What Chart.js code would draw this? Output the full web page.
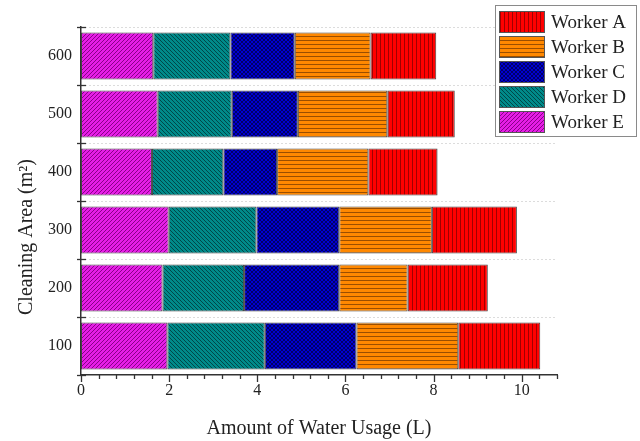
<!DOCTYPE html>
<html>
<head>
<meta charset="utf-8">
<script src="https://cdn.jsdelivr.net/npm/chart.js@4.4.1/dist/chart.umd.min.js"></script>
<style>
html, body { margin: 0; padding: 0; background: #fff; }
</style>
</head>
<body>
<canvas id="chart" width="640" height="441"></canvas>
<script>
// Data (stack segment lengths, litres)
const areas = ['100', '200', '300', '400', '500', '600'];
const workerE = [1.96, 1.85, 1.99, 1.61, 1.74, 1.64];
const workerD = [2.21, 1.85, 1.99, 1.62, 1.68, 1.75];
const workerC = [2.08, 2.16, 1.88, 1.22, 1.50, 1.46];
const workerB = [2.31, 1.55, 2.10, 2.07, 2.03, 1.72];
const workerA = [1.86, 1.82, 1.93, 1.57, 1.53, 1.49];
const xTicks = [0, 2, 4, 6, 8, 10];
const xMax = 10.8;

const FONT = '"Liberation Serif", "DejaVu Serif", serif';

// Hatched fills
function makePattern(bg, line, kind) {
    const s = 4;
    const c = document.createElement('canvas');
    c.width = s; c.height = s;
    const g = c.getContext('2d');
    g.fillStyle = bg;
    g.fillRect(0, 0, s, s);
    g.strokeStyle = line;
    g.lineWidth = 1;
    g.beginPath();
    if (kind === 'v') { g.moveTo(0.5, 0); g.lineTo(0.5, s); }
    if (kind === 'h') { g.moveTo(0, 0.5); g.lineTo(s, 0.5); }
    if (kind === 'fwd' || kind === 'cross') {
        g.moveTo(0, s); g.lineTo(s, 0);
        g.moveTo(-1, 1); g.lineTo(1, -1);
        g.moveTo(s - 1, s + 1); g.lineTo(s + 1, s - 1);
    }
    if (kind === 'back' || kind === 'cross') {
        g.moveTo(0, 0); g.lineTo(s, s);
        g.moveTo(-1, s - 1); g.lineTo(1, s + 1);
        g.moveTo(s - 1, -1); g.lineTo(s + 1, 1);
    }
    g.stroke();
    return g.createPattern(c, 'repeat');
}

const ctx = document.getElementById('chart').getContext('2d');

const series = [
    { label: 'Worker E', data: workerE, fill: makePattern('#e61ee6', '#8a008a', 'fwd') },
    { label: 'Worker D', data: workerD, fill: makePattern('#008a8a', '#004848', 'back') },
    { label: 'Worker C', data: workerC, fill: makePattern('#0000d2', '#000068', 'cross') },
    { label: 'Worker B', data: workerB, fill: makePattern('#ff8800', '#9a4e00', 'h') },
    { label: 'Worker A', data: workerA, fill: makePattern('#ff0000', '#a00000', 'v') }
];

// Ticks, boundary lines, legend and y title
const decorations = {
    id: 'decorations',
    beforeDatasetsDraw(chart) {
        const c = chart.ctx;
        const y = chart.scales.y;
        const area = chart.chartArea;
        c.save();
        c.strokeStyle = '#dcdcdc';
        c.lineWidth = 1;
        c.setLineDash([2, 2]);
        for (let i = 0; i < areas.length; i++) {
            const py = Math.round(y.getPixelForValue(i + 0.5)) + 0.5;
            c.beginPath();
            c.moveTo(area.left, py);
            c.lineTo(area.right, py);
            c.stroke();
        }
        c.restore();
    },
    afterDraw(chart) {
        const c = chart.ctx;
        const x = chart.scales.x;
        const y = chart.scales.y;
        const area = chart.chartArea;
        c.save();
        c.strokeStyle = '#333';
        c.lineWidth = 1.3;

        // x ticks: major every 2, minor every 0.4
        for (let i = 0; i * 0.4 <= xMax + 1e-9; i++) {
            const px = Math.round(x.getPixelForValue(i * 0.4)) + 0.5;
            const len = i % 5 === 0 ? 7 : 4;
            c.beginPath();
            c.moveTo(px, area.bottom);
            c.lineTo(px, area.bottom + len);
            c.stroke();
        }

        // y ticks at category boundaries, crossing the axis
        for (let i = 0; i <= areas.length; i++) {
            const py = Math.round(y.getPixelForValue(i - 0.5)) + 0.5;
            c.beginPath();
            c.moveTo(area.left - 4, py);
            c.lineTo(area.left + 5, py);
            c.stroke();
        }

        // y title
        c.fillStyle = '#222';
        c.font = '20px ' + FONT;
        c.textAlign = 'center';
        c.textBaseline = 'middle';
        c.translate(27, 237);
        c.rotate(-Math.PI / 2);
        c.fillText('Cleaning Area (m\u00b2)', 0, 0);
        c.restore();

        // legend box
        c.save();
        c.strokeStyle = '#8a8a8a';
        c.lineWidth = 1;
        c.fillStyle = '#fff';
        c.fillRect(495.5, 5.5, 141, 131);
        c.strokeRect(495.5, 5.5, 141, 131);
        c.font = '19px ' + FONT;
        c.textBaseline = 'middle';
        c.textAlign = 'left';
        const items = series.slice().reverse();
        items.forEach((s, i) => {
            const cy = 22 + i * 25;
            c.fillStyle = s.fill;
            c.fillRect(499, cy - 11, 46, 22);
            c.strokeStyle = '#555';
            c.strokeRect(499.5, cy - 10.5, 45, 21);
            c.fillStyle = '#222';
            c.fillText(s.label, 551, cy + 1);
        });
        c.restore();
    }
};

new Chart(ctx, {
    type: 'bar',
    data: {
        labels: areas,
        datasets: series.map(s => ({
            label: s.label,
            data: s.data,
            backgroundColor: s.fill,
            borderColor: '#444',
            borderWidth: 1,
            borderSkipped: false,
            categoryPercentage: 0.9,
            barPercentage: 0.9
        }))
    },
    options: {
        indexAxis: 'y',
        responsive: false,
        animation: false,
        layout: { padding: { top: 27, right: 83, left: 0, bottom: 0 } },
        plugins: {
            legend: { display: false },
            tooltip: { enabled: false }
        },
        scales: {
            x: {
                type: 'linear',
                stacked: true,
                min: 0,
                max: xMax,
                grid: { display: false, drawTicks: false },
                border: { display: true, color: '#333', width: 1.5 },
                afterBuildTicks: scale => { scale.ticks = xTicks.map(v => ({ value: v })); },
                afterFit: scale => { scale.height = 66; },
                ticks: {
                    color: '#222',
                    padding: 6,
                    maxRotation: 0,
                    font: { family: FONT, size: 16 }
                },
                title: {
                    display: true,
                    text: 'Amount of Water Usage (L)',
                    color: '#222',
                    font: { family: FONT, size: 20 },
                    padding: { top: 4, bottom: 0 }
                }
            },
            y: {
                type: 'category',
                stacked: true,
                reverse: true,
                grid: { display: false, drawTicks: false },
                border: { display: true, color: '#333', width: 1.5 },
                afterFit: scale => { scale.width = 81; },
                ticks: {
                    color: '#222',
                    padding: 9,
                    font: { family: FONT, size: 16 }
                }
            }
        }
    },
    plugins: [decorations]
});
</script>
</body>
</html>
